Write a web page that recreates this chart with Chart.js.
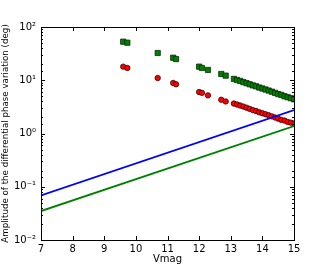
<!DOCTYPE html>
<html lang="en">
<head>
  <meta charset="UTF-8">
  <title>Differential phase amplitude vs Vmag</title>
  <script src="https://cdn.jsdelivr.net/npm/chart.js"></script>
  <style>
    html, body { margin: 0; padding: 0; background: #fff; }
    #wrap { width: 327px; height: 273px; }
  </style>
</head>
<body>
  <div id="wrap"><canvas id="ampChart" width="327" height="273"></canvas></div>

  <script>
    // magnitudes of the stars
    const vmag = [9.60, 9.73, 10.69, 11.18, 11.27, 12.00, 12.09, 12.28, 12.70, 12.84,
      13.1, 13.2, 13.3, 13.4, 13.5, 13.6, 13.7, 13.8, 13.9, 14.0,
      14.1, 14.2, 14.3, 14.4, 14.5, 14.6, 14.7, 14.8, 14.9, 15.0];
    // green squares
    const ampGreen = [53, 50.7, 32.5, 26.5, 25, 18, 17, 15.6, 13.1, 12.2,
      10.6, 10.1, 9.7, 9.2, 8.8, 8.4, 8.0, 7.7, 7.3, 7.0,
      6.7, 6.4, 6.1, 5.8, 5.5, 5.3, 5.0, 4.8, 4.6, 4.4];
    // red circles
    const ampRed = [18, 17, 11, 8.9, 8.4, 6.0, 5.8, 5.2, 4.3, 4.0,
      3.65, 3.5, 3.35, 3.2, 3.05, 2.9, 2.75, 2.65, 2.5, 2.4,
      2.3, 2.2, 2.1, 2.0, 1.9, 1.8, 1.75, 1.65, 1.6, 1.55];
    // the two straight lines (end points)
    const lineV = [7, 15];
    const lineBlue = [0.069, 2.75];
    const lineGreen = [0.035, 1.38];

    const xTicks = [7, 8, 9, 10, 11, 12, 13, 14, 15];
    const yLabels = { '-2': '10\u207B\u00B2', '-1': '10\u207B\u00B9', '0': '10\u2070', '1': '10\u00B9', '2': '10\u00B2' };

    const pts = (xs, ys) => xs.map((v, i) => ({ x: v, y: ys[i] }));

    // matplotlib-like frame with inward ticks
    const frameTicks = {
      id: 'frameTicks',
      afterDraw(chart) {
        const c = chart.ctx, a = chart.chartArea;
        const xs = chart.scales.x, ys = chart.scales.y;
        c.save();
        c.strokeStyle = '#000';
        c.lineWidth = 1;
        c.beginPath();
        xTicks.forEach(t => {
          const px = Math.round(xs.getPixelForValue(t)) + 0.5;
          c.moveTo(px, a.bottom); c.lineTo(px, a.bottom - 4);
          c.moveTo(px, a.top); c.lineTo(px, a.top + 4);
        });
        ys.ticks.forEach(t => {
          const lg = Math.log10(t.value);
          const major = Math.abs(lg - Math.round(lg)) < 1e-6;
          const len = major ? 4 : 2;
          const py = Math.round(ys.getPixelForValue(t.value)) + 0.5;
          c.moveTo(a.left, py); c.lineTo(a.left + len, py);
          c.moveTo(a.right, py); c.lineTo(a.right - len, py);
        });
        c.stroke();
        c.strokeRect(Math.round(a.left) + 0.5, Math.round(a.top) + 0.5,
          Math.round(a.right - a.left), Math.round(a.bottom - a.top));
        c.restore();
      }
    };

    const ctx = document.getElementById('ampChart').getContext('2d');
    new Chart(ctx, {
      type: 'scatter',
      data: {
        datasets: [
          {
            label: 'green',
            data: pts(vmag, ampGreen),
            pointStyle: 'rect',
            pointRadius: 3.7,
            backgroundColor: '#008000',
            borderColor: '#0a2a0a',
            borderWidth: 0.8,
            clip: 0,
            order: 3
          },
          {
            label: 'red',
            data: pts(vmag, ampRed),
            pointStyle: 'circle',
            pointRadius: 2.7,
            backgroundColor: '#ff0000',
            borderColor: '#3a0000',
            borderWidth: 0.8,
            clip: 0,
            order: 2
          },
          {
            label: 'blue line',
            data: pts(lineV, lineBlue),
            showLine: true,
            pointRadius: 0,
            borderColor: '#0000ff',
            borderWidth: 1.8,
            clip: 0,
            order: 1
          },
          {
            label: 'green line',
            data: pts(lineV, lineGreen),
            showLine: true,
            pointRadius: 0,
            borderColor: '#008000',
            borderWidth: 1.8,
            clip: 0,
            order: 0
          }
        ]
      },
      options: {
        responsive: false,
        animation: false,
        devicePixelRatio: 1,
        layout: { padding: { top: 27, right: 33, left: 0, bottom: 0 } },
        plugins: { legend: { display: false }, tooltip: { enabled: false } },
        scales: {
          x: {
            type: 'linear',
            min: 7, max: 15,
            afterFit: s => { s.height = 33; },
            afterBuildTicks: s => { s.ticks = xTicks.map(v => ({ value: v })); },
            grid: { display: false, drawTicks: false },
            border: { display: false },
            ticks: { color: '#000', padding: 3, font: { family: 'DejaVu Sans', size: 10 } },
            title: {
              display: true, text: 'Vmag', color: '#000',
              font: { family: 'DejaVu Sans', size: 10 },
              padding: { top: 0, bottom: 8 }
            }
          },
          y: {
            type: 'logarithmic',
            min: 0.01, max: 100,
            afterFit: s => { s.width = 41; },
            grid: { display: false, drawTicks: false },
            border: { display: false },
            ticks: {
              color: '#000', padding: 5, autoSkip: false,
              font: { family: 'DejaVu Sans', size: 10 },
              callback: v => {
                const lg = Math.log10(v);
                return Math.abs(lg - Math.round(lg)) < 1e-6 ? yLabels[String(Math.round(lg))] : '';
              }
            },
            title: {
              display: true, text: 'Amplitude of the differential phase variation (deg)', color: '#000',
              font: { family: 'DejaVu Sans', size: 8.7 },
              padding: { top: 1, bottom: 0 }
            }
          }
        }
      },
      plugins: [frameTicks]
    });
  </script>
</body>
</html>
